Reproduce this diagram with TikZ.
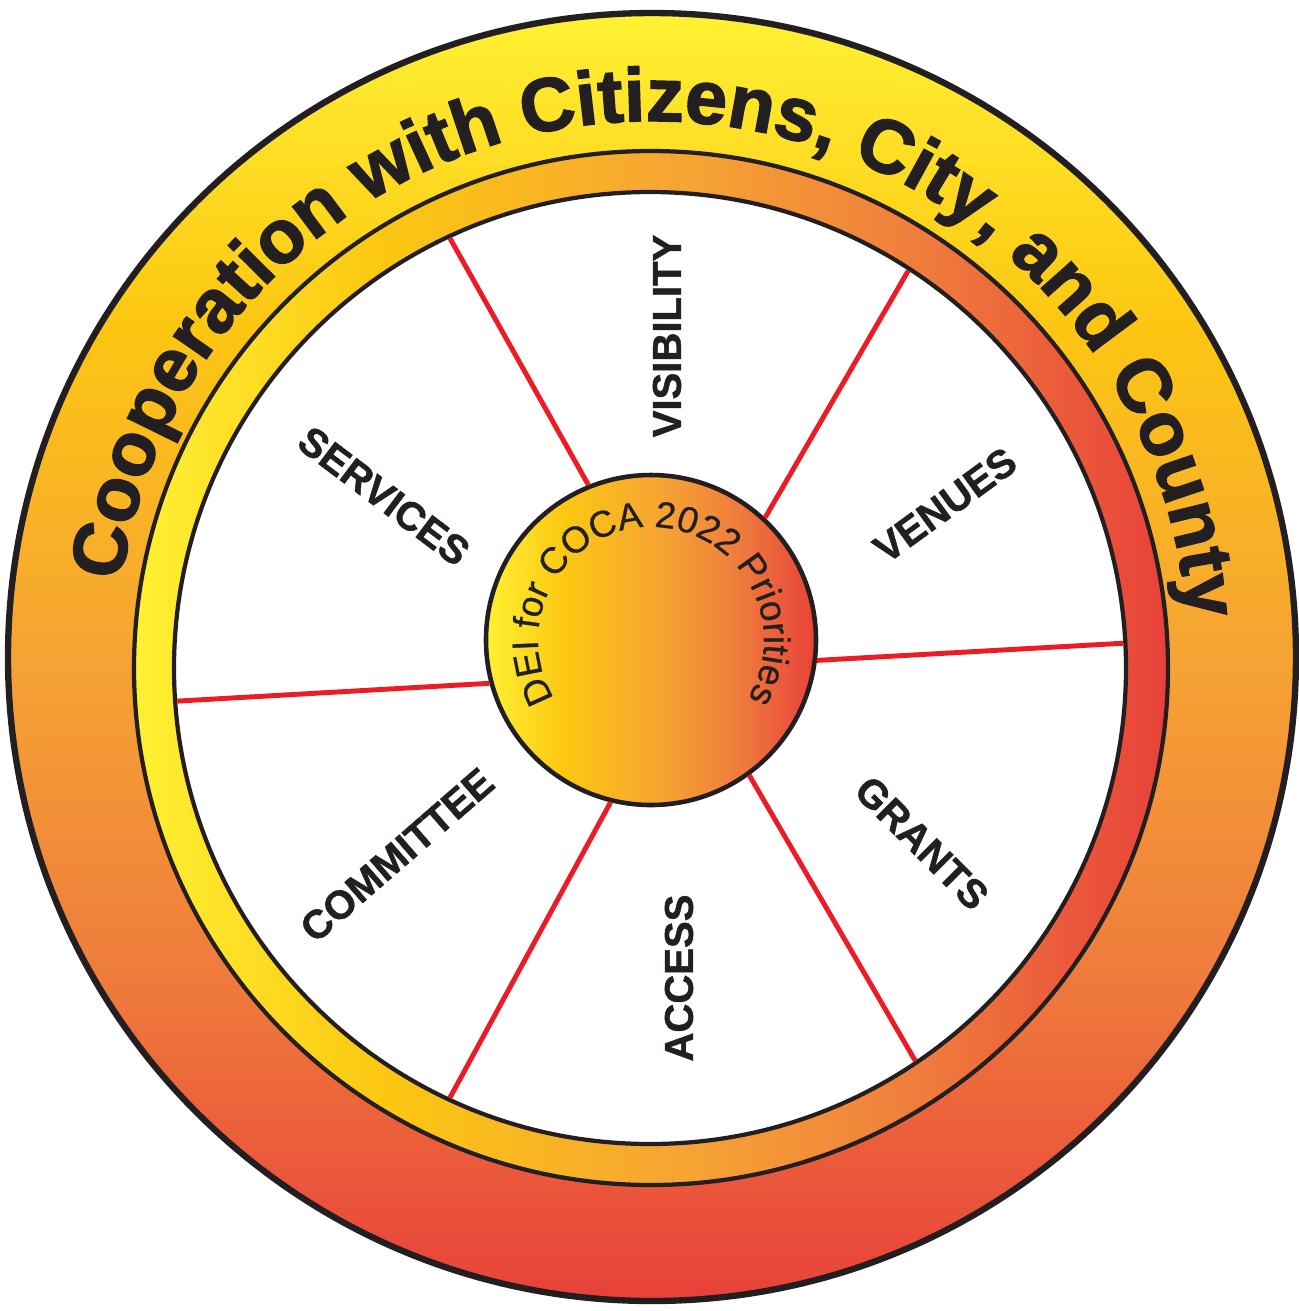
\documentclass[tikz,border=0pt]{standalone}
\usepackage{fontspec}
\usetikzlibrary{calc,decorations.text}

\setmainfont{Liberation Sans}
\newfontfamily\heavyfont[FakeBold=2]{Liberation Sans Bold}
\newfontfamily\boldfont[FakeBold=1.2]{Liberation Sans Bold}
\newfontfamily\midfont[FakeBold=0.6]{Liberation Sans}

\definecolor{ink}{HTML}{231F20}
\definecolor{spokered}{HTML}{ED1C24}
\definecolor{cYellow}{HTML}{FFF133}
\definecolor{cGold}{HTML}{FCC712}
\definecolor{cOrange}{HTML}{F6A334}
\definecolor{cEmber}{HTML}{EF7D3C}
\definecolor{cRed}{HTML}{E8413A}

\pgfdeclareverticalshading{rimshade}{100bp}{color(0bp)=(cRed); color(25bp)=(cRed); color(38bp)=(cEmber); color(50bp)=(cOrange); color(63bp)=(cGold); color(75bp)=(cYellow); color(100bp)=(cYellow)}
\pgfdeclarehorizontalshading{bandshade}{100bp}{color(0bp)=(cYellow); color(25bp)=(cYellow); color(37bp)=(cGold); color(52bp)=(cOrange); color(63bp)=(cEmber); color(75bp)=(cRed); color(100bp)=(cRed)}

\begin{document}
\begin{tikzpicture}[x=0.1mm, y=0.1mm,
    ring/.style={circle, draw=ink, inner sep=0, shade},
    spoke/.style={draw=spokered, line width=1.4pt, shorten >=1.2pt},
    topic/.style={font=\boldfont\fontsize{11.4}{13}\selectfont, text=ink, inner sep=0}]
    \useasboundingbox (0,0) rectangle (1299,-1311);

    % Rings
    \node [ring, shading=rimshade, line width=1.8pt, minimum size=12.88cm] (rim) at (652,-657) {};
    \node [ring, shading=bandshade, line width=1.2pt, minimum size=10.34cm] (band) at (651,-668) {};
    \node [circle, draw=ink, fill=white, inner sep=0, line width=1.2pt, minimum size=9.52cm] (wheel) at (650,-668) {};
    \node [ring, shading=bandshade, line width=1.3pt, minimum size=3.3cm] (core) at (651,-640) {};

    % Spokes
    \draw [spoke] (core.112) -- (wheel.115);
    \draw [spoke] (core.47) -- (wheel.57);
    \draw [spoke] (core.-7) -- (wheel.3);
    \draw [spoke] (core.195) -- (wheel.184);
    \draw [spoke] (core.256) -- (wheel.245);
    \draw [spoke] (core.306) -- (wheel.304);

    % Priorities
    \node [topic, rotate=90] (visibility) at (667,-336) {VISIBILITY};
    \node [topic, rotate=-37] (services) at (384,-496) {SERVICES};
    \node [topic, rotate=36] (venues) at (945,-505) {VENUES};
    \node [topic, rotate=-45] (grants) at (922,-843) {GRANTS};
    \node [topic, rotate=90] (access) at (679,-978) {ACCESS};
    \node [topic, rotate=41] (committee) at (397,-855) {COMMITTEE};

    % Ring texts
    \path [decorate, decoration={text along path, text align=center, text color=ink,
        text={|\heavyfont\fontsize{21.5}{26}\selectfont|Cooperation with Citizens, City, and County}}]
        ($(rim.center)+(176:536)$) arc [start angle=176, end angle=0, radius=536];
    \path [decorate, decoration={text along path, text align=center, text color=ink,
        text={|\midfont\fontsize{10.5}{13}\selectfont|DEI for COCA 2022 Priorities}}]
        ($(core.center)+(216:113)$) arc [start angle=216, end angle=-36, radius=113];
\end{tikzpicture}
\end{document}
